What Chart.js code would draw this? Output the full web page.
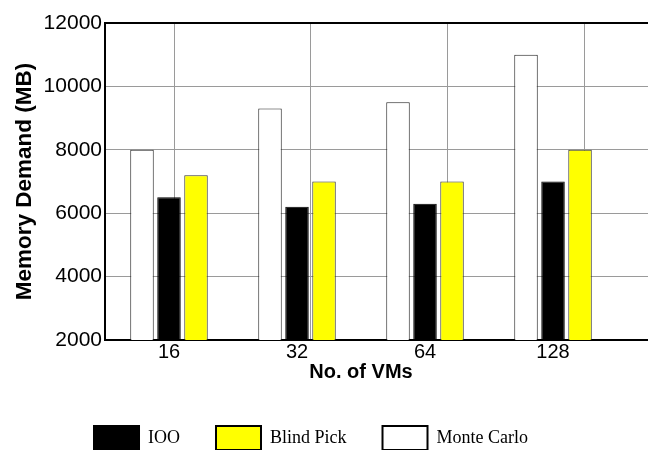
<!DOCTYPE html>
<html>
<head>
<meta charset="utf-8">
<script src="https://cdn.jsdelivr.net/npm/chart.js@4.4.1/dist/chart.umd.min.js"></script>
<style>
  html, body { margin: 0; padding: 0; background: #ffffff; }
  canvas { display: block; }
</style>
</head>
<body>
<canvas id="c" width="648" height="450"></canvas>
<script>
// ---- data ----
const categories = ['16', '32', '64', '128'];
const monteCarlo = [8000, 9300, 9500, 11000];
const ioo        = [6500, 6200, 6300, 7000];
const blindPick  = [7200, 7000, 7000, 8000];
const yTicks     = [2000, 4000, 6000, 8000, 10000, 12000];
const legendOrder = ['IOO', 'Blind Pick', 'Monte Carlo'];
const xTitle = 'No. of VMs';
const yTitle = 'Memory Demand (MB)';

const SANS = '"Liberation Sans", Arial, Helvetica, sans-serif';
const SERIF = '"Liberation Serif", "Times New Roman", serif';
const GRID = '#9a9a9a';

Chart.defaults.font.family = SANS;
Chart.defaults.color = '#000';

const toPoints = arr => arr.map((v, i) => ({ x: i + 1, y: v }));

const tweaks = {
  id: 'tweaks',
  afterLayout(chart) {
    const lg = chart.legend;
    if (lg) {
      const dx = -13;
      lg.left += dx; lg.right += dx;
      const h = lg.height;
      lg.top = 390; lg.bottom = 390 + h;
    }
  },
  afterDraw(chart) {
    const xs = chart.scales.x, ctx = chart.ctx;
    ctx.save();
    ctx.font = 'bold 20px ' + SANS;
    ctx.fillStyle = '#000';
    ctx.textAlign = 'center';
    ctx.textBaseline = 'middle';
    ctx.fillText(xTitle, xs.getPixelForValue((1 + categories.length) / 2), chart.chartArea.bottom + 32);
    ctx.restore();
  }
};

new Chart(document.getElementById('c'), {
  type: 'bar',
  data: {
    datasets: [
      { label: 'Monte Carlo', data: toPoints(monteCarlo), backgroundColor: '#ffffff', borderColor: '#222', borderWidth: 1 },
      { label: 'IOO',         data: toPoints(ioo),        backgroundColor: '#000000', borderColor: '#000', borderWidth: 1 },
      { label: 'Blind Pick',  data: toPoints(blindPick),  backgroundColor: '#ffff00', borderColor: '#333', borderWidth: 1 }
    ]
  },
  options: {
    responsive: false,
    animation: false,
    events: [],
    categoryPercentage: 0.633,
    barPercentage: 0.87,
    layout: { padding: { top: 23, right: 0, bottom: 0, left: 0 } },
    plugins: {
      tooltip: { enabled: false },
      legend: {
        position: 'bottom',
        labels: {
          boxWidth: 45,
          boxHeight: 24,
          padding: 36,
          color: '#000',
          font: { family: SERIF, size: 18 },
          generateLabels: chart => Chart.defaults.plugins.legend.labels.generateLabels(chart)
            .map(l => Object.assign(l, { lineWidth: 2, strokeStyle: '#000' })),
          sort: (a, b) => legendOrder.indexOf(a.text) - legendOrder.indexOf(b.text)
        }
      }
    },
    scales: {
      x: {
        type: 'linear',
        position: 'bottom',
        offset: false,
        min: 0.5,
        max: 4.742,
        grid: { display: false, drawTicks: false, offset: false },
        border: { display: true, color: '#000', width: 2 },
        ticks: {
          stepSize: 1,
          includeBounds: false,
          autoSkip: false,
          maxRotation: 0,
          padding: 0,
          color: '#000',
          font: { size: 20 },
          callback: v => (Number.isInteger(v) && categories[v - 1]) ? categories[v - 1] : ''
        },
        afterFit: s => { s.height = 40; }
      },
      x2: {
        type: 'linear',
        position: 'top',
        min: 0.495,
        max: 4.468,
        offset: false,
        grid: { display: true, color: GRID, lineWidth: 1, drawTicks: false, offset: false },
        border: { display: true, color: '#000', width: 2 },
        ticks: { display: false, stepSize: 1, includeBounds: false }
      },
      y: {
        position: 'left',
        min: yTicks[0],
        max: yTicks[yTicks.length - 1],
        grid: {
          drawTicks: false,
          lineWidth: 1,
          color: c => (c.tick && (c.tick.value === yTicks[0] || c.tick.value === yTicks[yTicks.length - 1])) ? 'rgba(0,0,0,0)' : GRID
        },
        border: { display: true, color: '#000', width: 2 },
        ticks: {
          stepSize: yTicks[1] - yTicks[0],
          padding: 3,
          color: '#000',
          font: { size: 21 },
          callback: v => String(v)
        },
        title: {
          display: true,
          text: yTitle,
          color: '#000',
          font: { size: 22.5, weight: 'bold' },
          padding: { top: 11, bottom: 0 }
        },
        afterFit: s => { s.width = 105; }
      }
    }
  },
  plugins: [tweaks]
});
</script>
</body>
</html>
